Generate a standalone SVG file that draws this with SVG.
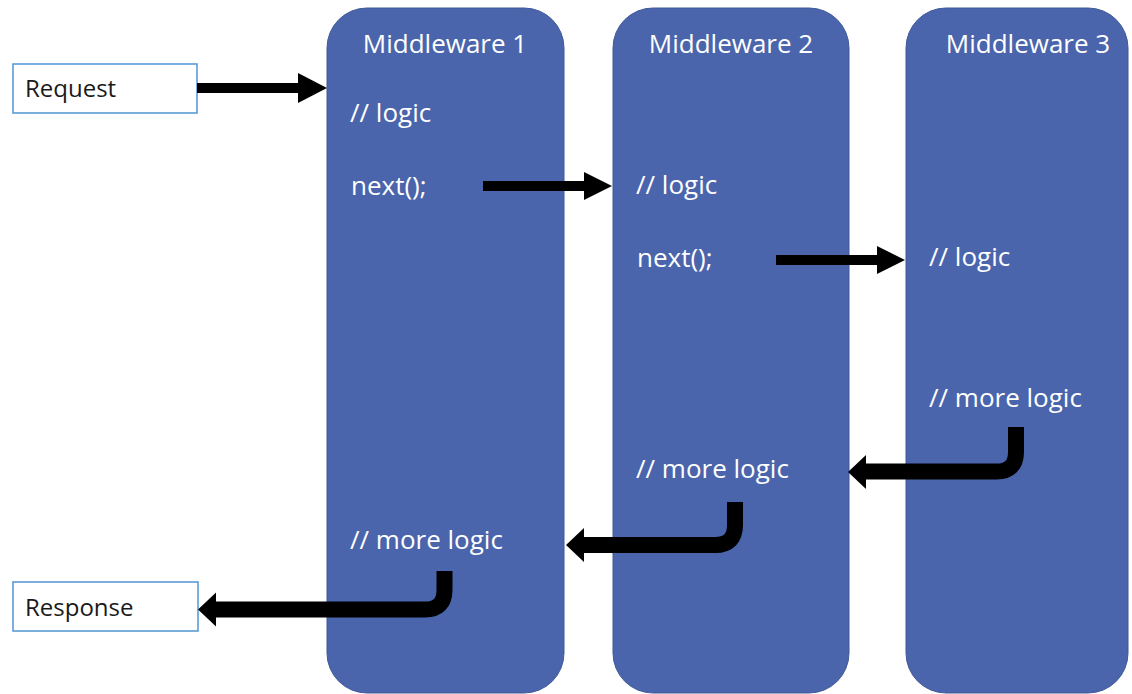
<svg xmlns="http://www.w3.org/2000/svg" width="1132" height="694" viewBox="0 0 1132 694">
  <style>
    .mw { fill: #4A65AC; stroke: #3F5899; stroke-width: 1; }
    .io { fill: #ffffff; stroke: #5B9BD5; stroke-width: 1.6; }
    .t  { font-family: "Open Sans", "Noto Sans", "Liberation Sans", sans-serif; fill: #ffffff; font-size: 26px; }
    .tt { text-anchor: middle; }
    .dk { font-family: "Open Sans", "Noto Sans", "Liberation Sans", sans-serif; fill: #1a1a1a; font-size: 24px; }
    .fw { stroke: #000; stroke-width: 10; fill: none; }
    .bk { stroke: #000; stroke-width: 16; fill: none; stroke-linejoin: round; }
    .hd { fill: #000; }
  </style>
  <rect width="1132" height="694" fill="#ffffff"/>

  <g id="request">
    <rect class="io" x="13" y="64" width="184" height="49"/>
    <text class="dk" x="25" y="97">Request</text>
  </g>
  <g id="response">
    <rect class="io" x="13" y="582" width="185" height="49"/>
    <text class="dk" x="25" y="616">Response</text>
  </g>

  <g id="middleware1">
    <rect class="mw" x="327" y="8" width="237" height="685" rx="40" ry="40"/>
    <text class="t tt" x="445" y="53">Middleware 1</text>
    <text class="t" x="350" y="122">// logic</text>
    <text class="t" x="351" y="195">next();</text>
    <text class="t" x="350" y="549">// more logic</text>
  </g>
  <g id="middleware2">
    <rect class="mw" x="613" y="8" width="236" height="685" rx="40" ry="40"/>
    <text class="t tt" x="731" y="53">Middleware 2</text>
    <text class="t" x="636" y="194">// logic</text>
    <text class="t" x="637" y="267">next();</text>
    <text class="t" x="636" y="478">// more logic</text>
  </g>
  <g id="middleware3">
    <rect class="mw" x="906" y="8" width="222" height="685" rx="40" ry="40"/>
    <text class="t tt" x="1028" y="53">Middleware 3</text>
    <text class="t" x="929" y="266">// logic</text>
    <text class="t" x="929" y="407">// more logic</text>
  </g>

  <g id="connectors">
    <line class="fw" x1="197" y1="88" x2="300" y2="88"/>
    <polygon class="hd" points="327,88 298,73 298,103"/>

    <line class="fw" x1="483" y1="186" x2="586" y2="186"/>
    <polygon class="hd" points="612,186 584,172 584,200"/>

    <line class="fw" x1="776" y1="260" x2="880" y2="260"/>
    <polygon class="hd" points="905,260 877,246 877,274"/>

    <path class="bk" d="M1016 427 V452 Q1016 471.5 996.5 471.5 H864"/>
    <polygon class="hd" points="848,472 866,455 866,489"/>

    <path class="bk" d="M735 502 V525 Q735 545 715 545 H581"/>
    <polygon class="hd" points="566,545 584,528 584,562"/>

    <path class="bk" d="M444.5 571 V590 Q444.5 609.5 425 609.5 H214"/>
    <polygon class="hd" points="198,609.5 216,592.5 216,626.5"/>
  </g>
</svg>
